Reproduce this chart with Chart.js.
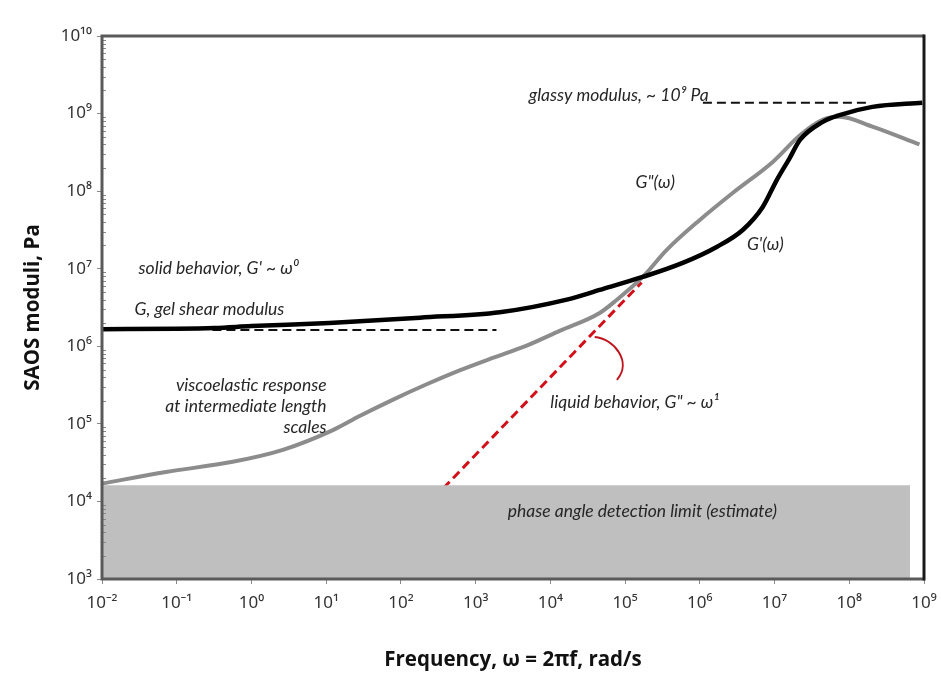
<!DOCTYPE html>
<html>
<head>
<meta charset="utf-8">
<script src="https://cdn.jsdelivr.net/npm/chart.js@4/dist/chart.umd.min.js"></script>
<style>
  html,body{margin:0;padding:0;background:#fff;}
  #c{display:block;}
</style>
</head>
<body>
<canvas id="c" width="941" height="674"></canvas>
<script>
// ---- data ----
const freqStorage = [0.01, 0.1, 0.32, 1, 11, 180, 2100, 1.66e4, 4.57e4, 1.72e5, 5.9e5, 1.68e6, 3.75e6, 6.95e6, 1.07e7, 1.58e7, 2.19e7, 4.37e7, 7.41e7, 2.04e8, 9.5e8];
const storageModulus = [1.66e6, 1.68e6, 1.72e6, 1.82e6, 2.0e6, 2.34e6, 2.75e6, 4.0e6, 5.33e6, 7.83e6, 1.19e7, 1.91e7, 3.16e7, 6.25e7, 1.39e8, 2.63e8, 4.57e8, 7.76e8, 9.55e8, 1.22e9, 1.38e9];

const freqLoss = [0.01, 0.072, 0.56, 2.63, 12.3, 28, 77.4, 221, 611, 1690, 4820, 1.33e4, 4.57e4, 7.76e4, 1.72e5, 3.61e5, 1.0e6, 2.75e6, 9.55e6, 2.19e7, 4.37e7, 7.41e7, 2.04e8, 8.7e8];
const lossModulus = [1.7e4, 2.4e4, 3.24e4, 4.62e4, 8.3e4, 1.26e5, 2.04e5, 3.24e5, 4.9e5, 7.08e5, 1.02e6, 1.58e6, 2.69e6, 3.98e6, 7.83e6, 1.75e7, 4.26e7, 9.48e7, 2.4e8, 5.25e8, 8.3e8, 9.1e8, 6.8e8, 4.0e8];

const gelFreq = [0.3, 1900];          const gelModulus = [1.62e6, 1.62e6];
const glassyFreq = [1.1e6, 1.7e8];    const glassyModulus = [1.38e9, 1.38e9];
const liquidFreq = [25, 1.66e5];      const liquidModulus = [1.0e3, 6.64e6];
const limitFreq = [0.01, 6.5e8];      const limitModulus = [1.62e4, 1.62e4];

const xTickValues = [1e-2, 1e-1, 1e0, 1e1, 1e2, 1e3, 1e4, 1e5, 1e6, 1e7, 1e8, 1e9];
const xTickLabels = ['10⁻²','10⁻¹','10⁰','10¹','10²','10³','10⁴','10⁵','10⁶','10⁷','10⁸','10⁹'];
const yTickValues = [1e3, 1e4, 1e5, 1e6, 1e7, 1e8, 1e9, 1e10];
const yTickLabels = ['10³','10⁴','10⁵','10⁶','10⁷','10⁸','10⁹','10¹⁰'];

const pts = (xs, ys) => xs.map((x, i) => ({x: x, y: ys[i]}));

// annotation texts, placed in data coordinates (log10 units)
const notes = [
  {t: 'glassy modulus, ~ 10⁹ Pa', lx: 3.71, ly: 9.23, align: 'left'},
  {t: 'G"(ω)', lx: 5.14, ly: 8.11, align: 'left'},
  {t: "G'(ω)", lx: 6.63, ly: 7.31, align: 'left'},
  {t: "solid behavior, G' ~ ω⁰", lx: -1.51, ly: 7.01, align: 'left'},
  {t: 'G, gel shear modulus', lx: -1.565, ly: 6.48, align: 'left'},
  {t: 'viscoelastic response', lx: 1.005, ly: 5.50, align: 'right'},
  {t: 'at intermediate length', lx: 1.005, ly: 5.22, align: 'right'},
  {t: 'scales', lx: 1.005, ly: 4.95, align: 'right'},
  {t: 'liquid behavior, G" ~ ω¹', lx: 4.00, ly: 5.28, align: 'left'},
  {t: 'phase angle detection limit (estimate)', lx: 3.43, ly: 3.87, align: 'left'}
];

const decor = {
  id: 'decor',
  afterDatasetsDraw(chart) {
    const {ctx, chartArea: a, scales: {x, y}} = chart;
    ctx.save();
    // minor ticks on y axis (inside)
    ctx.strokeStyle = '#8a8a8a'; ctx.lineWidth = 1;
    for (let d = 3; d < 10; d++) {
      for (let m = 2; m < 10; m++) {
        const py = Math.round(y.getPixelForValue(m * Math.pow(10, d))) + 0.5;
        ctx.beginPath(); ctx.moveTo(a.left, py); ctx.lineTo(a.left + 4, py); ctx.stroke();
      }
    }
    // frame
    ctx.lineWidth = 3;
    ctx.strokeStyle = '#5a5a5a';
    ctx.beginPath();
    ctx.moveTo(a.right, a.top); ctx.lineTo(a.left, a.top); ctx.lineTo(a.left, a.bottom); ctx.lineTo(a.right, a.bottom);
    ctx.stroke();
    ctx.strokeStyle = '#1a1a1a';
    ctx.beginPath(); ctx.moveTo(a.right, a.top - 1.5); ctx.lineTo(a.right, a.bottom + 1.5); ctx.stroke();

    // red curved pointer
    const P = (lx, ly) => [x.getPixelForValue(Math.pow(10, lx)), y.getPixelForValue(Math.pow(10, ly))];
    const p0 = P(4.593, 6.121), c1 = P(4.85, 6.10), c2 = P(5.10, 5.80), p3 = P(4.89, 5.567);
    ctx.strokeStyle = '#c0141c'; ctx.lineWidth = 2;
    ctx.beginPath(); ctx.moveTo(p0[0], p0[1]);
    ctx.bezierCurveTo(c1[0], c1[1], c2[0], c2[1], p3[0], p3[1]);
    ctx.stroke();

    // annotation texts
    ctx.fillStyle = '#262626';
    ctx.font = 'italic 17.5px Lato, "DejaVu Sans", sans-serif';
    ctx.textBaseline = 'middle';
    notes.forEach(n => {
      const p = P(n.lx, n.ly);
      ctx.textAlign = n.align;
      ctx.fillText(n.t, p[0], p[1]);
    });
    ctx.restore();
  }
};

new Chart(document.getElementById('c'), {
  type: 'line',
  data: {
    datasets: [
      {label: "G'(ω)", data: pts(freqStorage, storageModulus), borderColor: '#000', borderWidth: 4.5, pointRadius: 0, cubicInterpolationMode: 'monotone', fill: false, order: 0},
      {label: 'G"(ω)', data: pts(freqLoss, lossModulus), borderColor: '#8c8c8c', borderWidth: 4, pointRadius: 0, cubicInterpolationMode: 'monotone', fill: false, order: 1},
      {label: 'glassy modulus', data: pts(glassyFreq, glassyModulus), borderColor: '#111', borderWidth: 2, borderDash: [9, 5], pointRadius: 0, fill: false, order: 2},
      {label: 'gel shear modulus', data: pts(gelFreq, gelModulus), borderColor: '#111', borderWidth: 2, borderDash: [9, 5], pointRadius: 0, fill: false, order: 3},
      {label: 'phase angle detection limit', data: pts(limitFreq, limitModulus), borderColor: 'rgba(0,0,0,0)', borderWidth: 0, backgroundColor: '#bfbfbf', pointRadius: 0, fill: 'start', order: 4},
      {label: 'liquid behavior', data: pts(liquidFreq, liquidModulus), borderColor: '#d2101a', borderWidth: 3, borderDash: [9, 5], pointRadius: 0, fill: false, order: 5}
    ]
  },
  options: {
    responsive: false,
    animation: false,
    devicePixelRatio: 1,
    layout: {padding: {top: 36, right: 17, left: 0, bottom: 0}},
    plugins: {legend: {display: false}, tooltip: {enabled: false}},
    scales: {
      x: {
        type: 'logarithmic', min: 1e-2, max: 1e9,
        afterBuildTicks: s => { s.ticks = xTickValues.map(v => ({value: v})); },
        afterFit: s => { s.height = 95; s.paddingLeft = 0; s.paddingRight = 0; },
        grid: {drawOnChartArea: false, drawTicks: true, tickLength: 5, color: '#8a8a8a'},
        border: {display: false},
        ticks: {
          autoSkip: false, maxRotation: 0, padding: 9, color: '#333',
          font: {family: '"Noto Sans", sans-serif', size: 17},
          callback: (v, i) => xTickLabels[i]
        },
        title: {display: true, text: 'Frequency, ω = 2πf, rad/s', color: '#111',
          font: {family: '"Open Sans", sans-serif', size: 20.5, weight: 'bold'}, padding: {top: 0, bottom: 2}}
      },
      y: {
        type: 'logarithmic', min: 1e3, max: 1e10,
        afterBuildTicks: s => { s.ticks = yTickValues.map(v => ({value: v})); },
        afterFit: s => { s.width = 102; s.paddingTop = 0; s.paddingBottom = 0; },
        grid: {drawOnChartArea: false, drawTicks: true, tickLength: 5, color: '#8a8a8a'},
        border: {display: false},
        ticks: {
          autoSkip: false, padding: 5, color: '#333',
          font: {family: '"Noto Sans", sans-serif', size: 17},
          callback: (v, i) => yTickLabels[i]
        },
        title: {display: true, text: 'SAOS moduli, Pa', color: '#111',
          font: {family: '"Open Sans", sans-serif', size: 20.5, weight: 'bold'}, padding: {top: 21, bottom: 0}}
      }
    }
  },
  plugins: [decor]
});
</script>
</body>
</html>
